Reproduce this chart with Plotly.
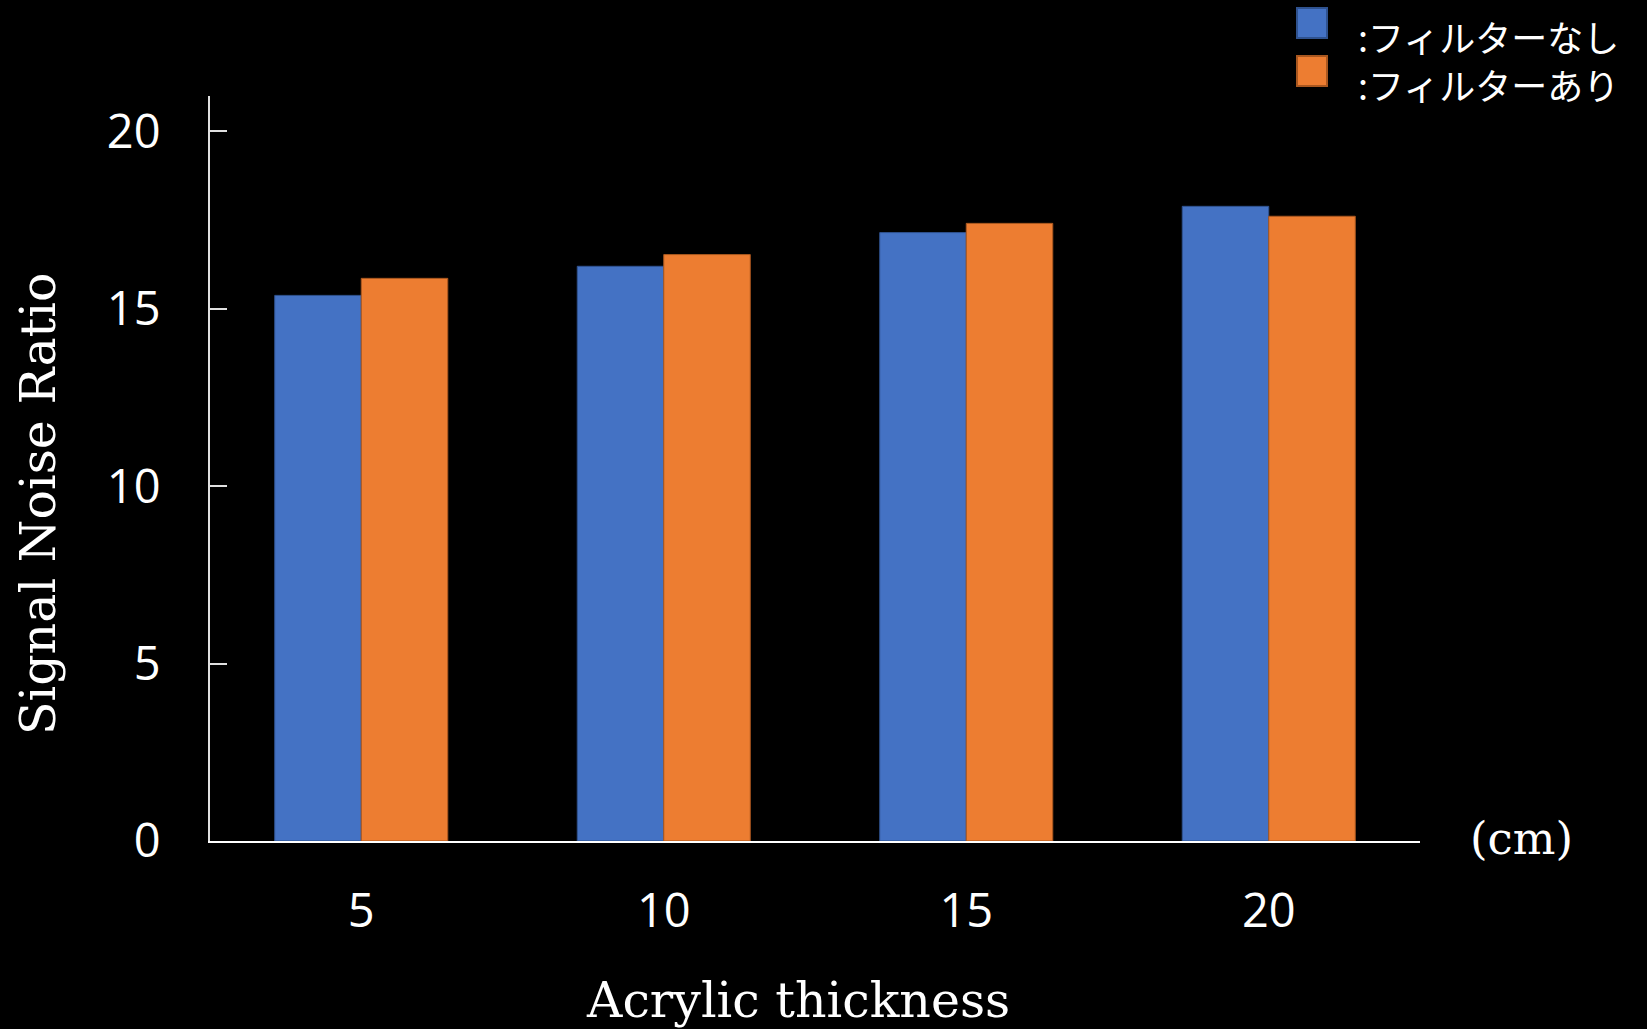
import plotly.graph_objects as go

# Acrylic thickness (cm) and signal-to-noise ratio per filter condition
thickness = ["5", "10", "15", "20"]
snr_no_filter = [15.38, 16.2, 17.15, 17.89]
snr_filter = [15.86, 16.53, 17.41, 17.61]

series_names = [":フィルターなし", ":フィルターあり"]
fill_colors = ["#4472C4", "#ED7D31"]
edge_colors = ["#2F528F", "#A9571F"]

y_ticks = [0, 5, 10, 15, 20]

# plot area in pixels (left, right, top, bottom)
PL, PR, PT, PB = 210, 1420, 96, 841


def px_x(x):
    return (x - PL) / (PR - PL)


def px_y(y):
    return (PB - y) / (PB - PT)


fig = go.Figure()
for name, vals, fc, ec in zip(series_names, [snr_no_filter, snr_filter], fill_colors, edge_colors):
    fig.add_trace(go.Bar(
        x=thickness, y=vals, name=name,
        marker=dict(color=fc, line=dict(color=ec, width=1)),
        showlegend=False,
    ))

# Legend drawn as colored squares with labels in the top-right corner
legend_rows = [(8, 38, 36), (56, 86, 84)]
for (y0, y1, ty), name, fc, ec in zip(legend_rows, series_names, fill_colors, edge_colors):
    fig.add_shape(type="rect", xref="paper", yref="paper",
                  x0=px_x(1297), x1=px_x(1327), y0=px_y(y1), y1=px_y(y0),
                  fillcolor=fc, line=dict(color=ec, width=2))
    fig.add_annotation(text=name, xref="paper", yref="paper",
                       x=px_x(1356), y=px_y(ty),
                       xanchor="left", yanchor="middle", showarrow=False,
                       font=dict(family="Noto Sans CJK JP", size=36, color="white"))

fig.add_annotation(text="(cm)", xref="paper", yref="paper",
                   x=px_x(1521), y=px_y(838),
                   xanchor="center", yanchor="middle", showarrow=False,
                   font=dict(family="DejaVu Serif", size=45, color="white"))

# Axis titles
fig.add_annotation(text="Acrylic thickness", xref="paper", yref="paper",
                   x=px_x(798), y=px_y(1000),
                   xanchor="center", yanchor="middle", showarrow=False,
                   font=dict(family="DejaVu Serif", size=49, color="white"))
fig.add_annotation(text="Signal Noise Ratio", xref="paper", yref="paper",
                   x=px_x(39), y=px_y(504), textangle=-90,
                   xanchor="center", yanchor="middle", showarrow=False,
                   font=dict(family="DejaVu Serif", size=49, color="white"))

fig.update_layout(
    width=1647, height=1029,
    paper_bgcolor="black", plot_bgcolor="black",
    margin=dict(l=PL, r=1647 - PR, t=PT, b=1029 - PB),
    barmode="group", bargap=0.428, bargroupgap=0,
    font=dict(color="white"),
)
fig.update_xaxes(
    type="category", showgrid=False, zeroline=False,
    showline=True, linecolor="white", linewidth=2,
    ticks="", ticklabelstandoff=28,
    tickfont=dict(family="Open Sans", size=47, color="white"),
)
fig.update_yaxes(
    range=[0, 21], tickvals=y_ticks, showgrid=False, zeroline=False,
    showline=True, linecolor="#e0e0e0", linewidth=2,
    ticks="inside", ticklen=17, tickwidth=2, tickcolor="#e0e0e0",
    ticklabelstandoff=38,
    tickfont=dict(family="Open Sans", size=47, color="white"),
)

fig.write_html("out.html")
